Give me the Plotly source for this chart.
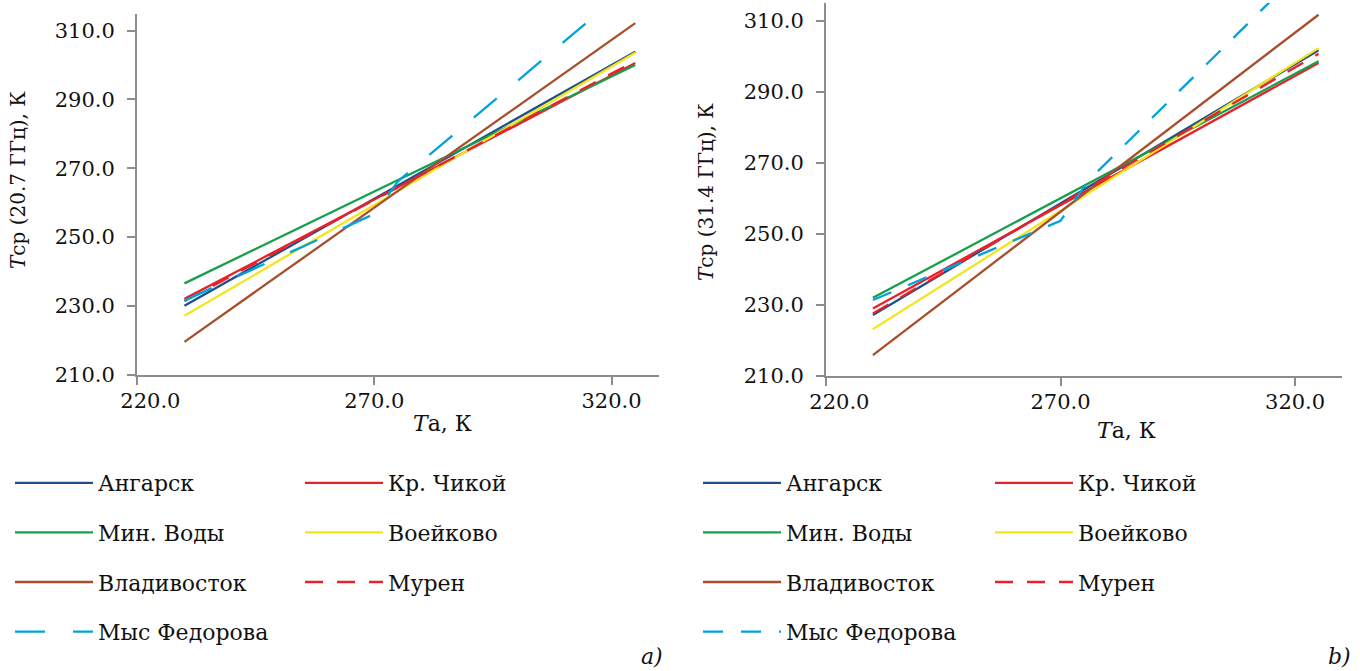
import plotly.graph_objects as go

# ---------------- data ----------------
stations = ["Ангарск", "Кр. Чикой", "Мин. Воды", "Воейково", "Владивосток", "Мурен", "Мыс Федорова"]

# Ta (K) at the ends of the straight regression lines
ta_ends = [230.0, 325.0]

# panel a) : Tcp (20.7 GHz)
a_angarsk = [230.0, 303.9]
a_chikoy = [232.0, 300.6]
a_minvody = [236.5, 300.0]
a_voeikovo = [227.1, 303.6]
a_vladivostok = [219.5, 312.2]
a_muren = [231.4, 301.2]
ta_fedorova_a = [230.0, 270.0, 275.0, 325.0]
a_fedorova = [231.5, 256.7, 266.2, 324.2]

# panel b) : Tcp (31.4 GHz)
b_angarsk = [227.2, 301.7]
b_chikoy = [229.0, 298.1]
b_minvody = [232.0, 298.6]
b_voeikovo = [223.2, 302.3]
b_vladivostok = [215.9, 311.7]
b_muren = [227.6, 300.7]
ta_fedorova_b = [230.0, 270.0, 276.0, 325.0]
b_fedorova = [231.4, 253.7, 265.1, 328.8]

x_ticks = [220, 270, 320]
x_tick_text = ["\u00a0\u00a0\u00a0\u00a0220.0", "270.0", "320.0"]
y_ticks = [210, 230, 250, 270, 290, 310]

# ---------------- style ----------------
colors = ["#1f4f8a", "#e8212b", "#17a04b", "#f4e41a", "#a84e2c", "#e8212b", "#00a3dc"]
dashes_a = ["solid", "solid", "solid", "solid", "solid", "18px,14px", "30px,28px"]
dashes_b = ["solid", "solid", "solid", "solid", "solid", "18px,14px", "20px,18px"]
# legend columns: first column -> Ангарск, Мин. Воды, Владивосток, Мыс Федорова
col_of = [0, 1, 0, 1, 0, 1, 0]

FONT = "DejaVu Serif"
FS = 21
FS_LEG = 22
FS_YT = 20
W, H = 1360, 671

series_a = [(ta_ends, a_angarsk), (ta_ends, a_chikoy), (ta_ends, a_minvody), (ta_ends, a_voeikovo),
            (ta_ends, a_vladivostok), (ta_ends, a_muren), (ta_fedorova_a, a_fedorova)]
series_b = [(ta_ends, b_angarsk), (ta_ends, b_chikoy), (ta_ends, b_minvody), (ta_ends, b_voeikovo),
            (ta_ends, b_vladivostok), (ta_ends, b_muren), (ta_fedorova_b, b_fedorova)]

fig = go.Figure()

for p, (series, dashes, xa, ya) in enumerate([(series_a, dashes_a, "x", "y"), (series_b, dashes_b, "x2", "y2")]):
    for i, (xs, ys) in enumerate(series):
        leg_idx = p * 2 + col_of[i]
        legend_name = "legend" if leg_idx == 0 else f"legend{leg_idx + 1}"
        fig.add_trace(go.Scatter(
            x=xs, y=ys, mode="lines", name=stations[i],
            line=dict(color=colors[i], width=2.3, dash=dashes[i]),
            xaxis=xa, yaxis=ya, legend=legend_name,
            legendgroup=f"{p}_{i}", hoverinfo="skip",
        ))

axis_common = dict(
    showline=True, linecolor="#8c8c8c", linewidth=2,
    ticks="outside", ticklen=8, tickwidth=2, tickcolor="#8c8c8c",
    showgrid=False, zeroline=False,
    tickfont=dict(family=FONT, size=FS, color="#111"),
)
x_extra = dict(ticklabelstandoff=-2, tickvals=x_ticks, ticktext=x_tick_text)
y_extra = dict(ticklabelstandoff=8, tickvals=y_ticks, tickformat=".1f")

def px_x(v):
    return v / W

def px_y(v):
    return 1 - v / H

fig.update_layout(
    width=W, height=H,
    margin=dict(l=0, r=0, t=0, b=0, autoexpand=False),
    paper_bgcolor="white", plot_bgcolor="white",
    font=dict(family=FONT, size=FS, color="#111"),
    xaxis=dict(domain=[px_x(137), px_x(659)], range=[220, 330], anchor="y", **axis_common, **x_extra),
    yaxis=dict(domain=[px_y(374.5), px_y(13.5)], range=[210, 315], anchor="x", **axis_common, **y_extra),
    xaxis2=dict(domain=[px_x(826), px_x(1342)], range=[220, 330], anchor="y2", **axis_common, **x_extra),
    yaxis2=dict(domain=[px_y(376), px_y(3)], range=[210, 315], anchor="x2", **axis_common, **y_extra),
    showlegend=True,
)

legend_common = dict(
    orientation="v", xanchor="left", yanchor="top", y=px_y(462),
    bgcolor="rgba(0,0,0,0)", itemwidth=78, tracegroupgap=18, traceorder="grouped",
    font=dict(family=FONT, size=FS_LEG, color="#111"), itemclick=False, itemdoubleclick=False,
)
fig.update_layout(
    legend=dict(x=px_x(10), **legend_common),
    legend2=dict(x=px_x(300), **legend_common),
    legend3=dict(x=px_x(698), **legend_common),
    legend4=dict(x=px_x(990), **legend_common),
)

annots = [
    dict(text="<i>T</i>a, К", x=px_x(442), y=px_y(423), textangle=0, size=FS_LEG),
    dict(text="<i>T</i>a, К", x=px_x(1126), y=px_y(430), textangle=0, size=FS_LEG),
    dict(text="<i>T</i>ср (20.7 ГГц), К", x=px_x(18), y=px_y(180), textangle=-90, size=FS_YT),
    dict(text="<i>T</i>ср (31.4 ГГц), К", x=px_x(706), y=px_y(192), textangle=-90, size=FS_YT),
    dict(text="<i>a)</i>", x=px_x(652), y=px_y(656), textangle=0, size=FS_LEG),
    dict(text="<i>b)</i>", x=px_x(1339), y=px_y(656), textangle=0, size=FS_LEG),
]
for a in annots:
    size = a.pop("size")
    fig.add_annotation(xref="paper", yref="paper", showarrow=False, xanchor="center", yanchor="middle",
                       font=dict(family=FONT, size=size, color="#111"), **a)

fig.write_html("out.html")
